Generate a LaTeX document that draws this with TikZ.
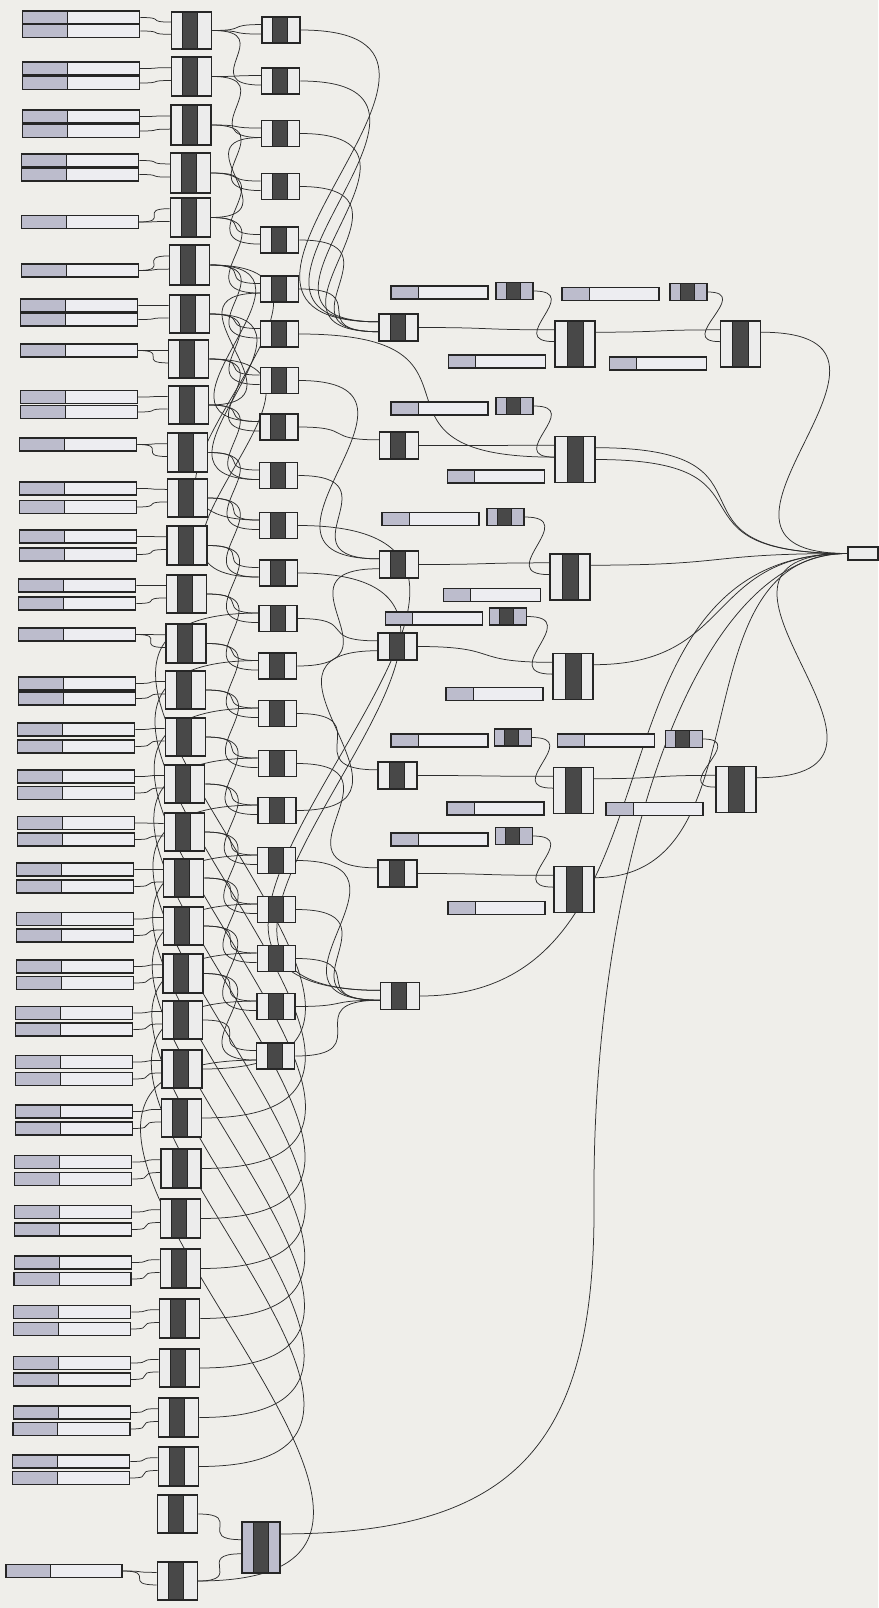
\documentclass[tikz,border=0pt]{standalone}
\usetikzlibrary{calc}
\definecolor{bgc}{RGB}{239,238,234}
\definecolor{sll}{RGB}{188,188,204}
\definecolor{slr}{RGB}{237,237,241}
\definecolor{compl}{RGB}{236,236,236}
\definecolor{darkc}{RGB}{72,72,72}
\definecolor{bord}{RGB}{38,38,38}
\definecolor{wirec}{RGB}{45,45,45}
\pgfdeclarelayer{bglayer}\pgfdeclarelayer{wirelayer}
\pgfsetlayers{bglayer,wirelayer,main}
\tikzset{
 wire/.style={draw=wirec, line width=0.75pt},
 sliderbox/.style n args={2}{draw=bord, line width=1.1pt, fill=slr, inner sep=0pt, minimum height=13pt, minimum width=#1,
   path picture={\fill[sll] (path picture bounding box.north west) rectangle ([xshift=#2]path picture bounding box.south west);
   \draw[bord,line width=1pt] ([xshift=#2]path picture bounding box.north west) -- ([xshift=#2]path picture bounding box.south west);}},
 slider/.style={sliderbox={117pt}{45pt}},
 eslider/.style={sliderbox={97pt}{27pt}},
 compbox/.style n args={4}{draw=bord, line width=1.2pt, fill=#4, inner sep=0pt, minimum width=#1,
   path picture={\filldraw[fill=darkc, draw=bord, line width=0.9pt] ([xshift=#2]path picture bounding box.north west) rectangle ([xshift=#3]path picture bounding box.south west);}},
 bcomp/.style={compbox={40pt}{11pt}{26pt}{compl}},
 ccomp/.style={compbox={38pt}{11pt}{26pt}{compl}, minimum height=26pt},
 dcomp/.style={compbox={39pt}{11pt}{26pt}{compl}, minimum height=27pt},
 ecomp/.style={compbox={40pt}{12pt}{28pt}{compl}, minimum height=46pt},
 kcomp/.style={compbox={37pt}{10pt}{24pt}{sll}, minimum height=17pt},
 bigcomp/.style={compbox={38pt}{11pt}{26pt}{sll}, minimum height=51pt},
 outbox/.style={draw=bord, line width=1.1pt, fill=compl, inner sep=0pt, minimum width=30pt, minimum height=13pt}
}
\newcommand\wire[2]{\draw[wire] let \p1=(#1), \p2=(#2), \n1={min(0.65*abs(\y2-\y1)+0.5*abs(\x2-\x1)+8pt,450pt)} in (\p1) .. controls (\x1+\n1,\y1) and (\x2-\n1,\y2) .. (\p2);}
\newcommand\owire[2]{\draw[wire] let \p1=(#1), \p2=(#2), \n1={0.5*abs(\x2-\x1)+0.15*abs(\y2-\y1)} in (\p1) .. controls (\x1+\n1,\y1) and (\x2-\n1,\y2) .. (\p2);}
\newcommand\twoports[1]{%
 \coordinate (#1-i1) at ($(#1.north west)!0.3!(#1.south west)$);
 \coordinate (#1-i2) at ($(#1.north west)!0.65!(#1.south west)$);
 \coordinate (#1-o) at (#1.east);}
\newcommand\eports[1]{%
 \coordinate (#1-i1) at ($(#1.north west)!0.2!(#1.south west)$);
 \coordinate (#1-i2) at ($(#1.north west)!0.45!(#1.south west)$);
 \coordinate (#1-o) at ($(#1.north east)!0.25!(#1.south east)$);
 \coordinate (#1-o2) at ($(#1.north east)!0.5!(#1.south east)$);}
\begin{document}
\begin{tikzpicture}[x=1pt,y=-1pt]
\begin{pgfonlayer}{bglayer}
\fill[bgc] (0,0) rectangle (878,1608);
\end{pgfonlayer}
\useasboundingbox (0,0) rectangle (878,1608);
% ---------- column A: sliders ----------
\foreach \r/\ya/\yb in {1/17.5/31, 2/68.5/83, 3/116.5/131, 4/160.5/174.5, 7/305.5/319.5, 9/397/412, 11/488.5/507, 12/536.5/554.5, 13/585.5/603.5, 15/683.5/698.5, 16/729.5/746.5, 17/776.5/793, 18/823/839.5, 19/869.5/886.5, 20/919/935.5, 21/966.5/983, 22/1013/1029.5, 23/1062/1079, 24/1111.5/1128.5, 25/1162/1179, 26/1212/1229.5, 27/1262.5/1279, 28/1312/1329, 29/1363/1379.5, 30/1412.5/1429, 31/1461.5/1478}{
 \pgfmathsetmacro\xa{81.5-0.007*\ya}
 \pgfmathsetmacro\xb{81.5-0.007*\yb}
 \node[slider] (sa\r) at (\xa,\ya) {};
 \node[slider] (sb\r) at (\xb,\yb) {};
}
\foreach \r/\y in {5/222, 6/270.5, 8/350.5, 10/444.5, 14/634.5}{
 \pgfmathsetmacro\xa{81.5-0.007*\y}
 \node[slider] (ss\r) at (\xa,\y) {};
}
\node[sliderbox={116pt}{44pt}] (ss33) at (64,1571) {};
% ---------- column B ----------
\foreach \n/\t/\b in {1/12/49, 2/57/96, 3/105/145, 4/153/193, 5/198/237, 6/245/285, 7/295/333, 8/340/378, 9/386/424, 10/433/472, 11/479/517, 12/526/565, 13/575/613, 14/624/663, 15/671/709, 16/718/756, 17/765/803, 18/813/851, 19/859/897, 20/907/945, 21/954/993, 22/1001/1039, 23/1050/1088, 24/1099/1137, 25/1149/1188, 26/1199/1238, 27/1249/1288, 28/1299/1338, 29/1349/1387, 30/1398/1437, 31/1447/1486, 32/1495/1533, 33/1562/1600}{
 \pgfmathsetmacro\xc{192-0.0095*\t}
 \pgfmathsetmacro\yc{(\t+\b)/2}
 \pgfmathsetmacro\hh{\b-\t}
 \node[bcomp, minimum height=\hh pt] (b\n) at (\xc,\yc) {};
 \coordinate (b\n-i1) at ($(b\n.north west)!0.28!(b\n.south west)$);
 \coordinate (b\n-i2) at ($(b\n.north west)!0.6!(b\n.south west)$);
 \coordinate (b\n-o) at (b\n.east);
}
% ---------- column C ----------
\foreach \n/\t/\b in {1/17/43, 2/68/94, 3/120/147, 4/173/200, 5/227/253, 6/276/302, 7/321/347, 8/367/394, 9/414/440, 10/463/488, 11/513/538, 12/560/586, 13/605/632, 14/653/679, 15/700/727, 16/750/777, 17/797/824, 18/847/874, 19/896/923, 20/945/972, 21/993/1020, 22/1043/1069}{
 \pgfmathsetmacro\xc{281-0.005*\t}
 \pgfmathsetmacro\yc{(\t+\b)/2}
 \node[ccomp] (c\n) at (\xc,\yc) {};
 \twoports{c\n}
}
% ---------- column D ----------
\node[dcomp] (d1) at (398.5,327.5) {}; \twoports{d1}
\node[dcomp] (d2) at (399,445.5) {}; \twoports{d2}
\node[dcomp] (d3) at (399,564.5) {}; \twoports{d3}
\node[dcomp] (d4) at (397.5,646.5) {}; \twoports{d4}
\node[dcomp] (d5) at (397.5,775.5) {}; \twoports{d5}
\node[dcomp] (d6) at (397.5,873.5) {}; \twoports{d6}
\node[dcomp] (d7) at (400,996) {}; \twoports{d7}
% ---------- E level ----------
\node[eslider] (se1a) at (439.5,292.5) {};
\node[kcomp] (k1) at (514.5,291) {};
\node[ecomp] (e1) at (575,344) {}; \eports{e1}
\node[eslider] (se1b) at (497,361.5) {};
\node[eslider] (se2a) at (439.5,408.5) {};
\node[kcomp] (k2) at (514.5,406) {};
\node[ecomp] (e2) at (575,459.5) {}; \eports{e2}
\node[eslider] (se2b) at (496,476.5) {};
\node[eslider] (se3a) at (430.5,519) {};
\node[kcomp] (k3) at (505.5,517) {};
\node[ecomp] (e3) at (570,577) {}; \eports{e3}
\node[eslider] (se3b) at (492,595) {};
\node[eslider] (se4a) at (434,618.5) {};
\node[kcomp] (k4) at (508,616.5) {};
\node[ecomp] (e4) at (573,676.5) {}; \eports{e4}
\node[eslider] (se4b) at (494.5,694) {};
\node[eslider] (se5a) at (439.5,740.5) {};
\node[kcomp] (k5) at (513,737.5) {};
\node[ecomp] (e5) at (573.5,790.5) {}; \eports{e5}
\node[eslider] (se5b) at (495.5,808.5) {};
\node[eslider] (se6a) at (439.5,839.5) {};
\node[kcomp] (k6) at (514,836) {};
\node[ecomp] (e6) at (574,889.5) {}; \eports{e6}
\node[eslider] (se6b) at (496.5,908) {};
% ---------- F level ----------
\node[eslider] (sf1a) at (610.5,294) {};
\node[kcomp] (kf1) at (688.5,292) {};
\node[ecomp] (f1) at (740.5,344) {}; \eports{f1}
\node[eslider] (sf1b) at (658,363.5) {};
\node[eslider] (sf2a) at (606,740.5) {};
\node[kcomp] (kf2) at (684,739) {};
\node[ecomp] (f2) at (736,789.5) {}; \eports{f2}
\node[eslider] (sf2b) at (654.5,809) {};
% ---------- output and bottom ----------
\node[outbox] (out) at (863,553.5) {};
\node[bigcomp] (big) at (261,1547.5) {};
\coordinate (big-i1) at ($(big.north west)!0.35!(big.south west)$);
\coordinate (big-i2) at ($(big.north west)!0.62!(big.south west)$);
\coordinate (big-o) at ($(big.north east)!0.24!(big.south east)$);
% ---------- wires ----------
\begin{pgfonlayer}{wirelayer}
\foreach \r in {1,2,3,4,7,9,11,12,13,15,16,17,18,19,20,21,22,23,24,25,26,27,28,29,30,31}{
 \wire{sa\r.east}{b\r-i1}
 \wire{sb\r.east}{b\r-i2}
}
\foreach \r in {5,6,8,10,14,33}{
 \wire{ss\r.east}{b\r-i1}
 \wire{ss\r.east}{b\r-i2}
}
\foreach \i [evaluate=\i as \j using int(\i+1)] in {1,...,21}{
 \wire{b\i-o}{c\i-i1}
 \wire{b\i-o}{c\j-i2}
}
\foreach \a/\b in {b22-o/c22-i1, b1-o/c1-i2, b6-o/c9-i1, b6-o/c11-i1, b7-o/c10-i2, b5-o/c3-i2, b8-o/c12-i2, b9-o/c6-i2,
 b23-o/c13-i1, b24-o/c14-i1, b25-o/c15-i1, b26-o/c16-i1, b27-o/c17-i1, b28-o/c18-i1, b29-o/c19-i1, b30-o/c20-i1, b31-o/c21-i1, b33-o/c22-i2,
 b32-o/big-i1, b33-o/big-i2,
 c1-o/d1-i1, c2-o/d1-i1, c3-o/d1-i1, c4-o/d1-i2, c5-o/d1-i2, c6-o/d1-i2, c7-o/e2-i2, c8-o/d3-i1, c9-o/d2-i1, c10-o/d3-i1,
 c11-o/d7-i1, c12-o/d7-i1, c13-o/d4-i1, c14-o/d3-i2, c15-o/d5-i1, c16-o/d6-i1, c17-o/d4-i2,
 c18-o/d7-i2, c19-o/d7-i2, c20-o/d7-i2, c21-o/d7-i2, c22-o/d7-i2,
 d1-o/e1-i1, d2-o/e2-i1, d3-o/e3-i1, d4-o/e4-i1, d5-o/e5-i1, d6-o/e6-i1,
 k1.east/e1-i2, k2.east/e2-i2, k3.east/e3-i2, k4.east/e4-i2, k5.east/e5-i2, k6.east/e6-i2,
 kf1.east/f1-i2, kf2.east/f2-i2,
 e1-o/f1-i1, e5-o/f2-i1,
 f1-o/out.west, f2-o/out.west, e2-o/out.west, e2-o2/out.west, e3-o/out.west}{
 \wire{\a}{\b}
}
\foreach \a in {e4-o, e6-o, d7-o}{
 \owire{\a}{out.west}
}
\draw[wire] (big-o) .. controls (520,1534) and (596,1440) .. (594,1200) .. controls (592,880) and (690,553) .. (out.west);
\end{pgfonlayer}
\end{tikzpicture}
\end{document}
